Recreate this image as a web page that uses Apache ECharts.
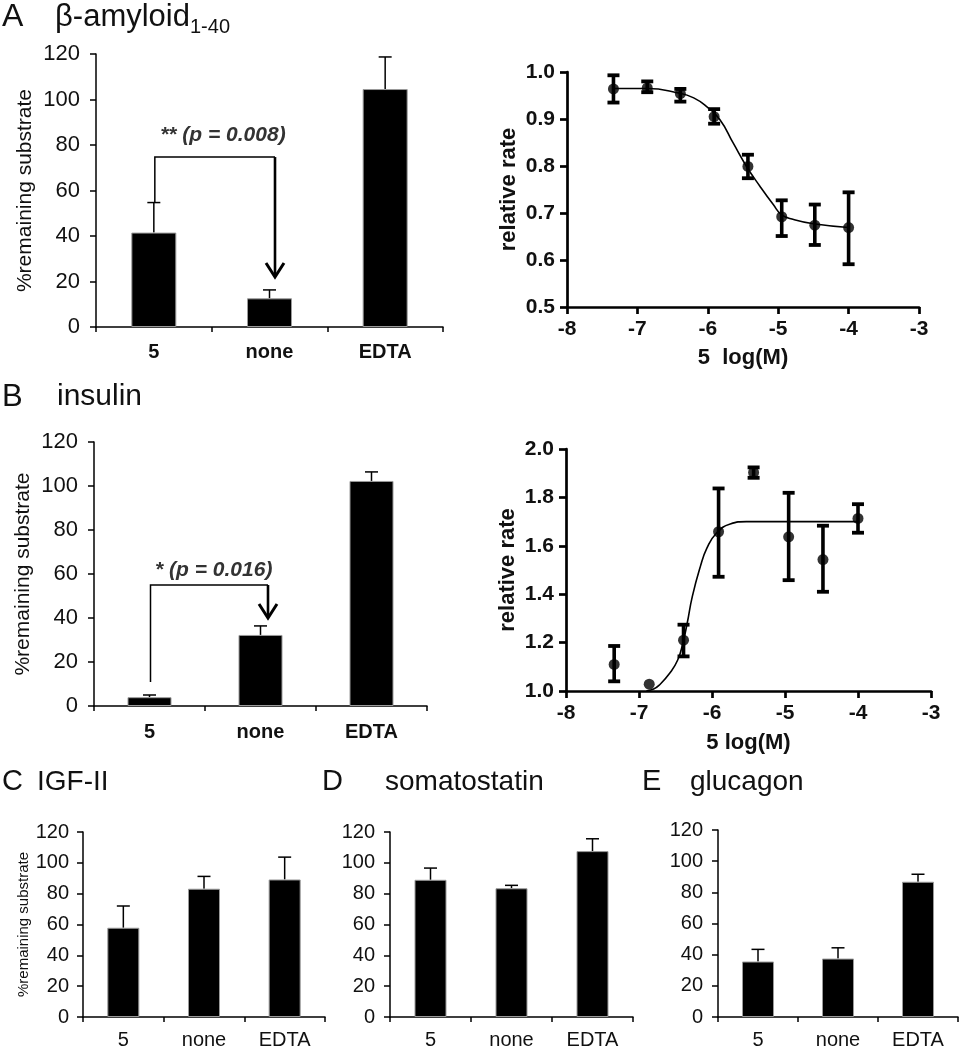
<!DOCTYPE html>
<html><head><meta charset="utf-8">
<script src="https://cdn.jsdelivr.net/npm/echarts@6/dist/echarts.min.js"></script>
<style>html,body{margin:0;padding:0;background:#fff}#c{width:960px;height:1050px}</style>
</head><body><div id="c"></div>
<script>
// ---------- data ----------
const barCategories = ['5', 'none', 'EDTA'];
const barTicks = [0, 20, 40, 60, 80, 100, 120];
const aBarValues = [41.5, 12.6, 104.6];
const aBarErrTop = [54.7, 16.3, 118.7];
const bBarValues = [4.0, 32.3, 102.3];
const bBarErrTop = [5.0, 36.4, 106.4];
const cBarValues = [57.9, 83.2, 89.2];
const cBarErrTop = [72.0, 91.2, 103.7];
const dBarValues = [89.0, 83.5, 107.6];
const dBarErrTop = [96.6, 85.4, 115.6];
const eBarValues = [35.6, 37.5, 86.8];
const eBarErrTop = [43.4, 44.4, 91.6];

const logConc = [-7.34, -6.86, -6.39, -5.91, -5.43, -4.95, -4.48, -4.0];
const aRate = [0.964, 0.966, 0.954, 0.905, 0.799, 0.692, 0.674, 0.669];
const aRateLow = [0.935, 0.957, 0.937, 0.890, 0.774, 0.651, 0.632, 0.591];
const aRateHigh = [0.993, 0.980, 0.964, 0.921, 0.824, 0.727, 0.718, 0.744];
const aFitX = [-7.36, -6.87, -6.40, -6.20, -6.02, -5.83, -5.64, -5.45, -5.26, -5.07, -4.95, -4.78, -4.50, -4.00];
const aFitY = [0.965, 0.965, 0.955, 0.945, 0.927, 0.899, 0.849, 0.799, 0.757, 0.718, 0.696, 0.686, 0.677, 0.669];

const bRate = [1.110, 1.028, 1.210, 1.658, 1.903, 1.637, 1.543, 1.713];
const bRateLow = [1.040, null, 1.143, 1.472, 1.881, 1.458, 1.410, 1.654];
const bRateHigh = [1.186, null, 1.274, 1.837, 1.924, 1.819, 1.683, 1.772];
const bFitX = [-6.90, -6.80, -6.72, -6.58, -6.47, -6.40, -6.34, -6.27, -6.16, -6.07, -5.94, -5.75, -5.53, -5.00, -4.50, -4.00];
const bFitY = [1.000, 1.008, 1.025, 1.073, 1.128, 1.197, 1.280, 1.390, 1.514, 1.590, 1.652, 1.690, 1.700, 1.700, 1.700, 1.700];

// significance annotations: [fromCat, toCat, startValue, topValue, arrowTipValue]
const aSig = [0, 1, 54.7, 74.7, 22];
const bSig = [0, 1, 10.9, 55, 40];
const aSigText = '** (p = 0.008)';
const bSigText = '* (p = 0.016)';

// ---------- helpers ----------
const FONT = '"Liberation Sans", Arial, sans-serif';
const TXT = '#111';

function barErr(params, api) {
  const i = api.value(0), v = api.value(1), t = api.value(2);
  const p0 = api.coord([i, v]), p1 = api.coord([i, t]);
  const hw = 6.5;
  return { type: 'group', children: [
    { type: 'line', shape: { x1: p0[0], y1: p0[1], x2: p1[0], y2: p1[1] }, style: { stroke: '#000', lineWidth: 1.5 } },
    { type: 'line', shape: { x1: p1[0] - hw, y1: p1[1], x2: p1[0] + hw, y2: p1[1] }, style: { stroke: '#000', lineWidth: 1.5 } }
  ]};
}
function ptErr(params, api) {
  const x = api.value(0), lo = api.value(1), hi = api.value(2);
  const a = api.coord([x, lo]), b = api.coord([x, hi]);
  const hw = 6, th = 3.8;
  return { type: 'group', children: [
    { type: 'rect', shape: { x: a[0] - 1.8, y: b[1], width: 3.6, height: a[1] - b[1] }, style: { fill: '#000' } },
    { type: 'rect', shape: { x: a[0] - hw, y: b[1] - th / 2, width: 2 * hw, height: th }, style: { fill: '#000' } },
    { type: 'rect', shape: { x: a[0] - hw, y: a[1] - th / 2, width: 2 * hw, height: th }, style: { fill: '#000' } }
  ]};
}
function makeSig(rightDx, textDx, textDy, label) {
  return function (params, api) {
    const c0 = api.value(0), c1 = api.value(1);
    const s = api.coord([c0, api.value(2)]);
    const t = api.coord([c0, api.value(3)]);
    const tipBase = api.coord([c1, api.value(4)]);
    const rx = tipBase[0] + rightDx;
    const ty = tipBase[1];
    const lx = s[0] + 1;
    return { type: 'group', children: [
      { type: 'polyline', shape: { points: [[lx, s[1]], [lx, t[1]], [rx, t[1]]] }, style: { stroke: '#000', lineWidth: 1.5, fill: null } },
      { type: 'line', shape: { x1: rx, y1: t[1], x2: rx, y2: ty - 1 }, style: { stroke: '#000', lineWidth: 2.6 } },
      { type: 'polyline', shape: { points: [[rx - 9, ty - 14], [rx, ty], [rx + 9, ty - 14]] }, style: { stroke: '#000', lineWidth: 3, fill: null } },
      { type: 'text', x: (lx + rx) / 2 + textDx, y: t[1] - textDy, style: { text: label, font: 'italic bold 21px ' + FONT, fill: '#333', align: 'center', verticalAlign: 'middle' } }
    ]};
  };
}

function barXAxis(grid, bold, size, margin) {
  return {
    type: 'category', gridIndex: grid, data: barCategories,
    axisLine: { lineStyle: { color: '#000', width: 1.5 } },
    axisTick: { show: true, interval: 0, length: 5, lineStyle: { color: '#000', width: 1.5 } },
    axisLabel: { color: TXT, fontFamily: FONT, fontSize: size, fontWeight: bold ? 'bold' : 'normal', margin: margin, interval: 0 },
    splitLine: { show: false }
  };
}
function barYAxis(grid, size, margin, name, nameSize, nameGap) {
  return {
    type: 'value', gridIndex: grid, min: barTicks[0], max: barTicks[barTicks.length - 1], interval: 20,
    name: name || '', nameLocation: 'middle', nameRotate: 90, nameGap: nameGap || 0,
    nameTextStyle: { color: TXT, fontFamily: FONT, fontSize: nameSize || 12 },
    axisLine: { show: true, lineStyle: { color: '#000', width: 1.5 } },
    axisTick: { show: true, length: 6, lineStyle: { color: '#000', width: 1.5 } },
    axisLabel: { color: TXT, fontFamily: FONT, fontSize: size, margin: margin },
    splitLine: { show: false }
  };
}
function curveXAxis(grid, nameGap) {
  return {
    type: 'value', gridIndex: grid, min: -8, max: -3, interval: 1,
    name: grid === 1 ? '5  log(M)' : '5 log(M)', nameLocation: 'middle', nameGap: nameGap,
    nameTextStyle: { color: TXT, fontFamily: FONT, fontSize: 22, fontWeight: 'bold' },
    axisLine: { onZero: false, lineStyle: { color: '#000', width: 2.7 } },
    axisTick: { length: 7, lineStyle: { color: '#000', width: 2.7 } },
    axisLabel: { color: TXT, fontFamily: FONT, fontSize: 21, fontWeight: 'bold', margin: 12 },
    splitLine: { show: false }
  };
}
function curveYAxis(grid, min, max, step, nameGap) {
  return {
    type: 'value', gridIndex: grid, min: min, max: max, interval: step,
    name: 'relative rate', nameLocation: 'middle', nameRotate: 90, nameGap: nameGap,
    nameTextStyle: { color: TXT, fontFamily: FONT, fontSize: 22, fontWeight: 'bold' },
    axisLine: { show: true, onZero: false, lineStyle: { color: '#000', width: 2.7 } },
    axisTick: { show: true, length: 7, lineStyle: { color: '#000', width: 2.7 } },
    axisLabel: { color: TXT, fontFamily: FONT, fontSize: 21, fontWeight: 'bold', margin: 12, formatter: v => v.toFixed(1) },
    splitLine: { show: false }
  };
}
function barSeries(idx, values, width) {
  return { type: 'bar', xAxisIndex: idx, yAxisIndex: idx, data: values, barWidth: width,
    itemStyle: { color: '#000', borderColor: '#9a9a9a', borderWidth: 1 }, silent: true };
}
function barErrSeries(idx, values, tops) {
  return { type: 'custom', xAxisIndex: idx, yAxisIndex: idx, renderItem: barErr, silent: true,
    encode: { x: 0, y: [1, 2] }, data: values.map((v, i) => [i, v, tops[i]]) };
}
function zip(a, b) { return a.map((v, i) => [v, b[i]]); }
function header(letter, name, lx, nx, cy, size) {
  return [
    { type: 'text', x: lx, y: cy, style: { text: letter, font: (size + 1) + 'px ' + FONT, fill: TXT, verticalAlign: 'middle' } },
    { type: 'text', x: nx, y: cy, style: { text: name, font: size + 'px ' + FONT, fill: TXT, verticalAlign: 'middle' } }
  ];
}

const chart = echarts.init(document.getElementById('c'), null, { renderer: 'canvas' });
chart.setOption({
  animation: false,
  backgroundColor: '#fff',
  grid: [
    { left: 96, top: 54, width: 347, height: 273, containLabel: false },
    { left: 567, top: 72, width: 352, height: 235, containLabel: false },
    { left: 94, top: 442, width: 333, height: 264, containLabel: false },
    { left: 566, top: 449, width: 365, height: 242, containLabel: false },
    { left: 83, top: 832, width: 242, height: 187, containLabel: false },
    { left: 390, top: 832, width: 243, height: 188, containLabel: false },
    { left: 718, top: 830, width: 240, height: 189, containLabel: false }
  ],
  xAxis: [
    barXAxis(0, true, 20, 15),
    curveXAxis(1, 40),
    barXAxis(2, true, 20, 16),
    curveXAxis(3, 41),
    barXAxis(4, false, 20, 13),
    barXAxis(5, false, 20, 13),
    barXAxis(6, false, 20, 13)
  ],
  yAxis: [
    barYAxis(0, 22, 16, '%remaining substrate', 21, 60),
    curveYAxis(1, 0.5, 1.0, 0.1, 47),
    barYAxis(2, 22, 16, '%remaining substrate', 21, 60),
    curveYAxis(3, 1.0, 2.0, 0.2, 47),
    barYAxis(4, 20, 14, '%remaining substrate', 15, 46),
    barYAxis(5, 20, 15),
    barYAxis(6, 20, 15)
  ],
  series: [
    barSeries(0, aBarValues, 45), barErrSeries(0, aBarValues, aBarErrTop),
    { type: 'custom', xAxisIndex: 0, yAxisIndex: 0, silent: true, renderItem: makeSig(5.5, 8, 22, aSigText), data: [aSig] },
    { type: 'line', xAxisIndex: 1, yAxisIndex: 1, data: zip(aFitX, aFitY), smooth: true, showSymbol: false, lineStyle: { color: '#000', width: 1.6 }, silent: true },
    { type: 'custom', xAxisIndex: 1, yAxisIndex: 1, renderItem: ptErr, silent: true, encode: { x: 0, y: [1, 2] },
      data: logConc.map((x, i) => [x, aRateLow[i], aRateHigh[i]]) },
    { type: 'scatter', xAxisIndex: 1, yAxisIndex: 1, data: zip(logConc, aRate), symbolSize: 11, itemStyle: { color: '#000' }, silent: true },

    barSeries(2, bBarValues, 44), barErrSeries(2, bBarValues, bBarErrTop),
    { type: 'custom', xAxisIndex: 2, yAxisIndex: 2, silent: true, renderItem: makeSig(7.5, 4.5, 15, bSigText), data: [bSig] },
    { type: 'line', xAxisIndex: 3, yAxisIndex: 3, data: zip(bFitX, bFitY), smooth: true, showSymbol: false, lineStyle: { color: '#000', width: 1.6 }, silent: true },
    { type: 'custom', xAxisIndex: 3, yAxisIndex: 3, renderItem: ptErr, silent: true, encode: { x: 0, y: [1, 2] },
      data: logConc.map((x, i) => [x, bRateLow[i], bRateHigh[i]]).filter(d => d[1] !== null) },
    { type: 'scatter', xAxisIndex: 3, yAxisIndex: 3, data: zip(logConc, bRate), symbolSize: 11, itemStyle: { color: '#000' }, silent: true },

    barSeries(4, cBarValues, 32), barErrSeries(4, cBarValues, cBarErrTop),
    barSeries(5, dBarValues, 32), barErrSeries(5, dBarValues, dBarErrTop),
    barSeries(6, eBarValues, 32), barErrSeries(6, eBarValues, eBarErrTop)
  ],
  graphic: [].concat(
    header('A', 'β-amyloid', 2, 55, 17, 31),
    [{ type: 'text', x: 190, y: 27, style: { text: '1-40', font: '20px ' + FONT, fill: TXT, verticalAlign: 'middle' } }],
    header('B', 'insulin', 2, 57, 397, 30),
    header('C', 'IGF-II', 2, 37, 782, 28),
    header('D', 'somatostatin', 322, 385, 782, 28),
    header('E', 'glucagon', 642, 690, 782, 28)
  )
});
</script>
</body></html>
